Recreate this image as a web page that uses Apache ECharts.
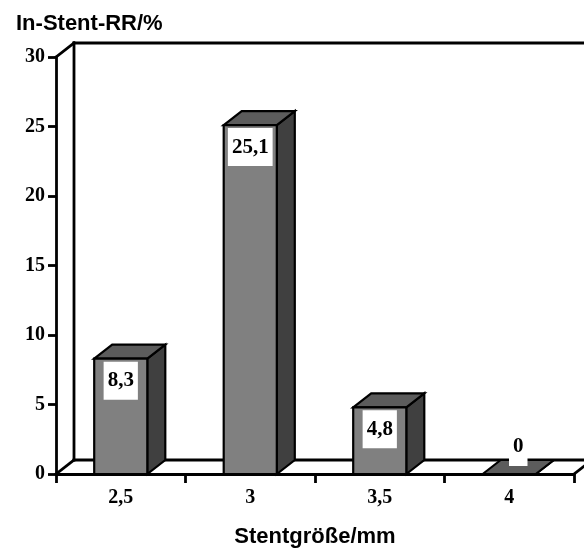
<!DOCTYPE html>
<html>
<head>
<meta charset="utf-8">
<script src="https://cdn.jsdelivr.net/npm/echarts@6/dist/echarts.min.js"></script>
<style>
  html, body { margin: 0; padding: 0; background: #fff; }
  #chart { width: 584px; height: 554px; }
</style>
</head>
<body>
<div id="chart"></div>
<script>
// Stent size categories and in-stent restenosis rate per size
const categories = ['2,5', '3', '3,5', '4'];
const restenosisRate = [8.3, 25.1, 4.8, 0];
const yTicks = { min: 0, max: 30, interval: 5 };

// Oblique depth used for the pseudo-3D walls and bar sides
const DEPTH_X = 18;
const DEPTH_Y = -14;
const LINE_W = 2.8;

const serifFont = '"Liberation Serif", "Times New Roman", serif';
const sansFont = '"Liberation Sans", Arial, sans-serif';

const chart = echarts.init(document.getElementById('chart'), null, { renderer: 'canvas' });

function line(x1, y1, x2, y2) {
  return {
    type: 'line',
    shape: { x1, y1, x2, y2 },
    style: { stroke: '#000', lineWidth: LINE_W, lineCap: 'square' }
  };
}

// Back wall, floor and the connecting edges of the box
function renderFrame(params) {
  const cs = params.coordSys;
  const x = cs.x, y = cs.y, w = cs.width, h = cs.height;
  return {
    type: 'group',
    children: [
      line(x + DEPTH_X, y + DEPTH_Y, x + w + DEPTH_X + 10, y + DEPTH_Y),
      line(x + DEPTH_X, y + DEPTH_Y, x + DEPTH_X, y + h + DEPTH_Y),
      line(x + DEPTH_X, y + h + DEPTH_Y, x + w + DEPTH_X, y + h + DEPTH_Y),
      line(x, y, x + DEPTH_X, y + DEPTH_Y),
      line(x, y + h, x + DEPTH_X, y + h + DEPTH_Y),
      line(x + w, y + h, x + w + DEPTH_X, y + h + DEPTH_Y)
    ]
  };
}

// One box-shaped column with its value label
function renderBar(params, api) {
  const cat = api.value(0);
  const val = api.value(1);
  const top = api.coord([cat, val]);
  const base = api.coord([cat, 0]);
  const bw = api.size([1, 0])[0] * 0.41;
  const x0 = top[0] - bw / 2;
  const x1 = top[0] + bw / 2;
  const yt = top[1];
  const yb = base[1];
  const edge = { stroke: '#000', lineWidth: 2.2, lineJoin: 'miter' };

  let labelY = yt + 22;
  let labelX = top[0];
  const maxLabelY = yb - 27;
  if (labelY > maxLabelY) {
    labelY = maxLabelY;
    labelX = top[0] + DEPTH_X / 2;
  }

  return {
    type: 'group',
    children: [
      {
        type: 'polygon',
        shape: { points: [[x1, yt], [x1 + DEPTH_X, yt + DEPTH_Y], [x1 + DEPTH_X, yb + DEPTH_Y], [x1, yb]] },
        style: Object.assign({ fill: '#404040' }, edge)
      },
      {
        type: 'polygon',
        shape: { points: [[x0, yt], [x0 + DEPTH_X, yt + DEPTH_Y], [x1 + DEPTH_X, yt + DEPTH_Y], [x1, yt]] },
        style: Object.assign({ fill: '#5c5c5c' }, edge)
      },
      {
        type: 'rect',
        shape: { x: x0, y: yt, width: bw, height: yb - yt },
        style: Object.assign({ fill: '#808080' }, edge)
      },
      {
        type: 'text',
        x: labelX,
        y: labelY,
        style: {
          text: String(val).replace('.', ','),
          font: 'bold 21px ' + serifFont,
          fill: '#000',
          align: 'center',
          verticalAlign: 'middle',
          backgroundColor: '#fff',
          padding: [9, 4, 8, 4],
          lineHeight: 21
        }
      }
    ]
  };
}

chart.setOption({
  animation: false,
  backgroundColor: '#fff',
  title: {
    text: 'In-Stent-RR/%',
    left: 11,
    top: 8,
    textStyle: { fontFamily: sansFont, fontWeight: 'bold', fontSize: 22, color: '#000' }
  },
  grid: { left: 56, right: 10, top: 57, bottom: 80, containLabel: false },
  xAxis: {
    type: 'category',
    data: categories,
    boundaryGap: true,
    name: 'Stentgröße/mm',
    nameLocation: 'middle',
    nameGap: 52,
    nameTextStyle: { fontFamily: sansFont, fontWeight: 'bold', fontSize: 22, color: '#000' },
    axisLine: { show: true, lineStyle: { color: '#000', width: LINE_W } },
    axisTick: { show: true, inside: false, length: 9, alignWithLabel: false, lineStyle: { color: '#000', width: LINE_W } },
    axisLabel: { margin: 14, fontFamily: serifFont, fontWeight: 'bold', fontSize: 20, color: '#000' },
    splitLine: { show: false }
  },
  yAxis: {
    type: 'value',
    min: yTicks.min,
    max: yTicks.max,
    interval: yTicks.interval,
    axisLine: { show: true, lineStyle: { color: '#000', width: LINE_W } },
    axisTick: { show: true, inside: false, length: 8, lineStyle: { color: '#000', width: LINE_W } },
    axisLabel: { margin: 11, fontFamily: serifFont, fontWeight: 'bold', fontSize: 20, color: '#000' },
    splitLine: { show: false }
  },
  series: [
    {
      type: 'custom',
      z: 1,
      silent: true,
      clip: false,
      renderItem: renderFrame,
      data: [[0, 0]]
    },
    {
      type: 'custom',
      z: 3,
      clip: false,
      renderItem: renderBar,
      encode: { x: 0, y: 1 },
      data: restenosisRate.map((v, i) => [i, v])
    }
  ]
});
</script>
</body>
</html>
